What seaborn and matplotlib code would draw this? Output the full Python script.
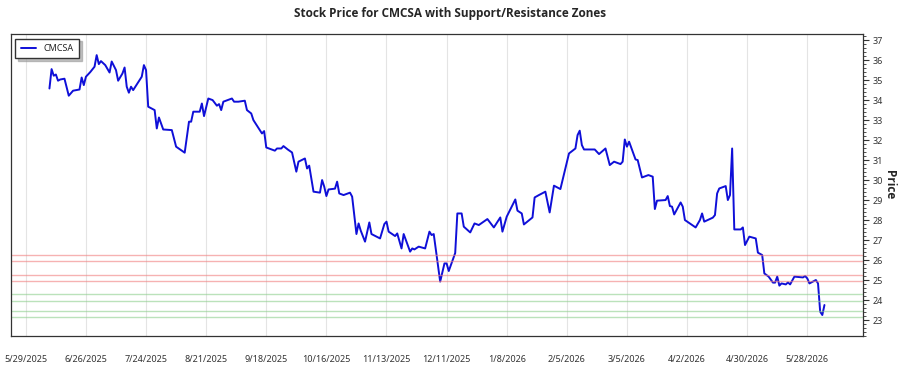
import pandas as pd
import seaborn as sns
import matplotlib.pyplot as plt
from matplotlib.ticker import MultipleLocator, AutoMinorLocator

# days after 2025-05-29 and closing price
start_date = "2025-05-29"
day_offset = [
    11, 12, 13, 14, 15, 16, 18, 20, 22, 25, 26, 27, 28, 30, 32, 33, 34, 35, 37, 39,
    40, 42, 43, 45, 46, 47, 48, 49, 50, 52, 54, 55, 56, 57, 60, 61, 62, 64, 68, 70,
    74, 76, 77, 78, 81, 82, 83, 85, 87, 89, 90, 91, 92, 96, 97, 99, 101, 102, 103, 105,
    106, 108, 110, 111, 112, 116, 117, 119, 120, 122, 124, 126, 127, 130, 131, 132, 134, 137, 138, 139,
    140, 141, 144, 145, 146, 148, 151, 152, 154, 155, 156, 158, 160, 161, 165, 167, 168, 169, 172, 173,
    175, 176, 179, 180, 181, 183, 186, 188, 189, 190, 193, 195, 196, 197, 200, 201, 203, 204, 207, 209,
    211, 215, 218, 221, 222, 224, 228, 229, 231, 232, 236, 237, 239, 242, 244, 246, 249, 251, 253, 256,
    257, 258, 259, 260, 265, 267, 270, 272, 274, 277, 278, 279, 280, 281, 284, 285, 287, 290, 292, 293,
    294, 298, 299, 300, 301, 302, 305, 306, 307, 312, 314, 315, 316, 320, 321, 322, 323, 326, 327, 328,
    329, 330, 333, 334, 335, 337, 340, 341, 343, 344, 346, 348, 349, 350, 351, 352, 354, 355, 356, 358,
    362, 363, 364, 365, 368, 369, 370, 371, 372,
]
close = [
    34.58, 35.55, 35.22, 35.28, 34.97, 35.03, 35.07, 34.22, 34.47, 34.53, 35.13, 34.75, 35.17, 35.40, 35.67, 36.25, 35.80, 35.95, 35.75, 35.38,
    35.93, 35.50, 34.97, 35.33, 35.63, 34.67, 34.37, 34.67, 34.50, 34.83, 35.17, 35.75, 35.50, 33.67, 33.50, 32.58, 33.13, 32.53, 32.50, 31.67,
    31.37, 32.92, 32.92, 33.42, 33.42, 33.83, 33.20, 34.08, 34.00, 33.72, 33.80, 33.50, 33.92, 34.08, 33.92, 33.92, 33.95, 33.97, 33.50, 33.33,
    33.00, 32.67, 32.33, 32.45, 31.63, 31.47, 31.58, 31.58, 31.70, 31.53, 31.38, 30.42, 30.92, 31.08, 30.58, 30.72, 29.42, 29.37, 30.00, 29.67,
    29.20, 29.53, 29.57, 29.92, 29.33, 29.25, 29.37, 29.17, 27.30, 27.83, 27.47, 26.92, 27.88, 27.30, 27.08, 27.80, 27.92, 27.42, 27.20, 27.33,
    26.58, 27.30, 26.42, 26.58, 26.53, 26.67, 26.58, 27.42, 27.25, 27.30, 24.92, 25.83, 25.83, 25.45, 26.35, 28.33, 28.33, 27.67, 27.38, 27.83,
    27.75, 28.05, 27.63, 28.13, 27.42, 28.17, 29.03, 28.47, 28.33, 27.78, 28.13, 29.13, 29.25, 29.42, 28.38, 29.72, 29.55, 30.45, 31.33, 31.58,
    32.25, 32.47, 31.75, 31.53, 31.53, 31.30, 31.58, 30.75, 30.92, 30.80, 30.92, 32.03, 31.67, 31.92, 31.03, 31.00, 30.13, 30.25, 30.17, 28.55,
    28.97, 29.00, 29.20, 28.70, 28.67, 28.28, 28.88, 28.67, 28.00, 27.63, 28.00, 28.33, 27.92, 28.12, 28.25, 29.33, 29.58, 29.70, 29.00, 29.25,
    31.58, 27.53, 27.53, 27.63, 26.75, 27.17, 27.08, 26.37, 26.25, 25.33, 25.17, 24.87, 24.87, 25.17, 24.72, 24.83, 24.78, 24.88, 24.78, 25.17,
    25.13, 25.20, 25.08, 24.83, 25.00, 24.83, 23.42, 23.25, 23.75,
]

# zone boundaries
resistance_levels = [26.25, 25.95, 25.25, 24.95]
support_levels = [24.30, 23.95, 23.45, 23.15]

ticker = "CMCSA"

df = pd.DataFrame({
    "Date": pd.Timestamp(start_date) + pd.to_timedelta(day_offset, unit="D"),
    "Close": close,
})

sns.set_style("white")
plt.rcParams["font.family"] = ["Noto Sans", "DejaVu Sans"]
bold_font = ["Open Sans", "DejaVu Sans"]

fig = plt.figure(figsize=(9, 3.75), dpi=100)
ax = fig.add_axes([0.012, 0.104, 0.947, 0.805])

sns.lineplot(data=df, x="Date", y="Close", ax=ax, color="#0f0fd8", linewidth=1.4, label=ticker)

for lvl in resistance_levels:
    ax.axhline(lvl, color="#f08080", alpha=0.6, linewidth=1)
for lvl in support_levels:
    ax.axhline(lvl, color="#8fcf8f", alpha=0.6, linewidth=1)

ax.set_xlim(pd.Timestamp("2025-05-22"), pd.Timestamp("2026-06-23"))
ax.set_ylim(22.2, 37.3)

ticks = pd.date_range(start_date, periods=14, freq="28D")
ax.set_xticks(ticks)
ax.set_xticklabels([f"{d.month}/{d.day}/{d.year}" for d in ticks])
ax.xaxis.grid(True, color="#e4e4e4", linewidth=0.8)
ax.yaxis.grid(False)

ax.yaxis.tick_right()
ax.yaxis.set_label_position("right")
ax.yaxis.set_major_locator(MultipleLocator(1))
ax.yaxis.set_minor_locator(AutoMinorLocator(5))
ax.tick_params(axis="y", which="major", length=4, width=0.8, labelsize=6.5, colors="#333333", pad=3)
ax.tick_params(axis="y", which="minor", length=2, width=0.6, colors="#333333")
ax.tick_params(axis="x", length=5, width=0.8, labelsize=6.5, colors="#333333", pad=9)
ax.set_ylabel("Price", rotation=270, labelpad=9, fontsize=8.5, fontweight="bold", family=bold_font)
ax.set_xlabel("")

for s in ax.spines.values():
    s.set_color("#333333")
    s.set_linewidth(0.9)

ax.legend(loc="upper left", fontsize=6.5, frameon=True, fancybox=False,
          shadow={"color": "0.6", "alpha": 0.6},
          edgecolor="#333333", handlelength=1.7, borderpad=0.6)

fig.suptitle(f"Stock Price for {ticker} with Support/Resistance Zones",
             fontsize=8.5, fontweight="bold", y=0.98, family=bold_font)

fig.savefig("out.png", dpi=100)
